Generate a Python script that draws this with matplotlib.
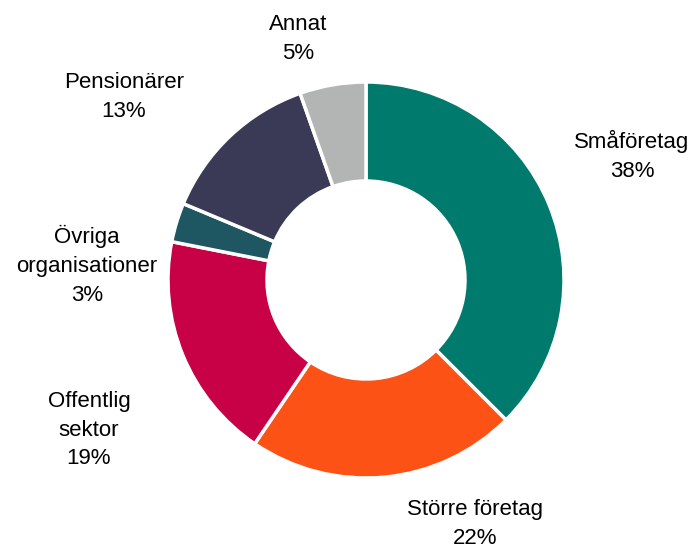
import matplotlib
matplotlib.use("Agg")
import matplotlib.pyplot as plt

categories = ["Småföretag", "Större företag", "Offentlig\nsektor", "Övriga\norganisationer", "Pensionärer", "Annat"]
values = [37.5, 22.0, 18.6, 3.2, 13.3, 5.4]
colors = ["#007A6C", "#FC5216", "#C80046", "#1E5661", "#3B3A56", "#B3B5B5"]

# label anchor positions (pixel coords from top-left)
label_pos = [(632, 156), (475, 524), (89, 430), (87, 265), (124, 97), (298, 39)]

W, H = 697, 549
fig = plt.figure(figsize=(W / 100, H / 100), dpi=100)
ax = fig.add_axes([0, 0, 1, 1])

cx, cy, r = 366, H - 280, 198
ax.pie(values, colors=colors, startangle=90, counterclock=False,
       center=(cx, cy), radius=r, frame=True,
       wedgeprops=dict(width=r * 0.5, edgecolor="white", linewidth=2.5))
ax.set_xlim(0, W)
ax.set_ylim(0, H)
ax.set_aspect("equal")
ax.axis("off")

for cat, v, (x, y) in zip(categories, values, label_pos):
    ax.text(x, H - y, f"{cat}\n{v:.0f}%", ha="center", va="center",
            fontsize=16, family="Liberation Sans", color="#000000", linespacing=1.5)

fig.savefig("out.png", dpi=100)
